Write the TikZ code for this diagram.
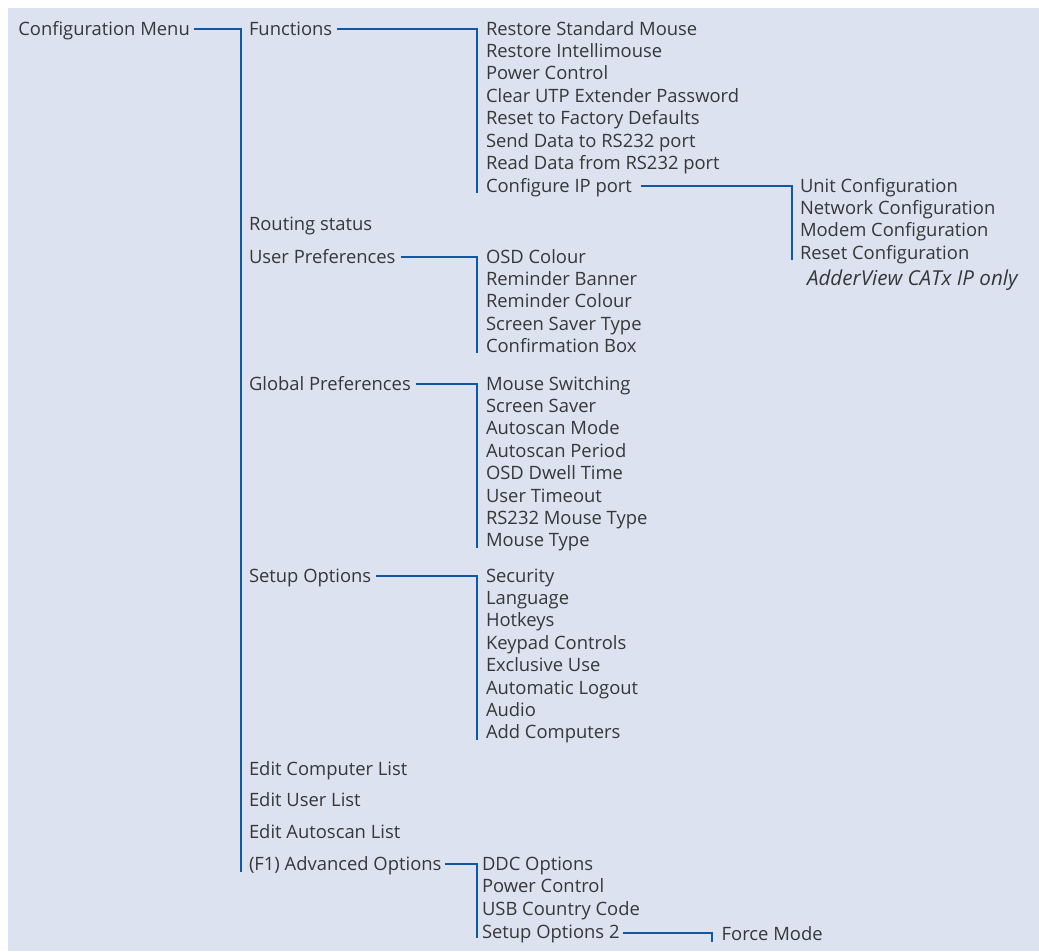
\documentclass[tikz,border=0pt]{standalone}
\usepackage{fontspec}
\setmainfont{Open Sans}
\usetikzlibrary{calc}
\definecolor{bg}{RGB}{221,226,240}
\definecolor{conn}{RGB}{16,88,164}
\definecolor{txt}{RGB}{55,55,55}
\newcommand{\lbl}{\fontsize{18.4}{21}\selectfont}
\newcommand{\notefont}{\fontsize{20.6}{24}\selectfont\itshape}
\tikzset{
  item/.style={inner sep=0pt, outer sep=0pt, anchor=base west, font=\lbl, text=txt},
  note/.style={item, font=\notefont},
  link/.style={draw=conn, line width=2pt},
  trunk/.style={draw=conn, line width=2.2pt}
}
\begin{document}
\begin{tikzpicture}[x=1pt,y=-1pt]
\useasboundingbox (0,0) rectangle (1039,951);
\fill[bg] (8,8) rectangle (1039,951);
% vertical line x positions
\coordinate (v1) at (241,0);
\coordinate (v2) at (477,0);
\coordinate (v3) at (792,0);
\coordinate (v4) at (712,0);
% level 1
\node[item] (cm) at (18.3,35) {Configuration Menu};
% level 2
\node[item] (fn) at (249,35) {Functions};
\node[item] (rs) at (249,230) {Routing status};
\node[item] (up) at (249,263) {User Preferences};
\node[item] (gp) at (249,390) {Global Preferences};
\node[item] (so) at (249,582) {Setup Options};
\node[item] (ec) at (249,775) {Edit Computer List};
\node[item] (eu) at (249,806.6) {Edit User List};
\node[item] (ea) at (249,838.3) {Edit Autoscan List};
\node[item] (ao) at (249,870) {(F1) Advanced Options};
% Functions children
\node[item] (f1) at (486,35) {Restore Standard Mouse};
\node[item] (f2) at (486,57.4) {Restore Intellimouse};
\node[item] (f3) at (486,79.8) {Power Control};
\node[item] (f4) at (486,102.2) {Clear UTP Extender Password};
\node[item] (f5) at (486,124.6) {Reset to Factory Defaults};
\node[item] (f6) at (486,147) {Send Data to RS232 port};
\node[item] (f7) at (486,169.4) {Read Data from RS232 port};
\node[item] (f8) at (486,192) {Configure IP port};
% IP children
\node[item] (i1) at (800,192) {Unit Configuration};
\node[item] (i2) at (800,214.4) {Network Configuration};
\node[item] (i3) at (800,236.8) {Modem Configuration};
\node[item] (i4) at (800,259.2) {Reset Configuration};
\node[note] (ipn) at (807,285.5) {AdderView CATx IP only};
% User Preferences children
\node[item] (u1) at (486,263) {OSD Colour};
\node[item] (u2) at (486,285.4) {Reminder Banner};
\node[item] (u3) at (486,307.8) {Reminder Colour};
\node[item] (u4) at (486,330.2) {Screen Saver Type};
\node[item] (u5) at (486,352.6) {Confirmation Box};
% Global Preferences children
\node[item] (g1) at (486,390) {Mouse Switching};
\node[item] (g2) at (486,412.4) {Screen Saver};
\node[item] (g3) at (486,434.8) {Autoscan Mode};
\node[item] (g4) at (486,457.2) {Autoscan Period};
\node[item] (g5) at (486,479.6) {OSD Dwell Time};
\node[item] (g6) at (486,502) {User Timeout};
\node[item] (g7) at (486,524.4) {RS232 Mouse Type};
\node[item] (g8) at (486,546.8) {Mouse Type};
% Setup Options children
\node[item] (s1) at (486,582) {Security};
\node[item] (s2) at (486,604.4) {Language};
\node[item] (s3) at (486,626.8) {Hotkeys};
\node[item] (s4) at (486,649.2) {Keypad Controls};
\node[item] (s5) at (486,671.6) {Exclusive Use};
\node[item] (s6) at (486,694) {Automatic Logout};
\node[item] (s7) at (486,716.4) {Audio};
\node[item] (s8) at (486,738.8) {Add Computers};
% Advanced Options children
\node[item] (a1) at (482,870) {DDC Options};
\node[item] (a2) at (482,892.7) {Power Control};
\node[item] (a3) at (482,915.4) {USB Country Code};
\node[item] (a4) at (482,938) {Setup Options 2};
\node[item] (fm) at (721.7,940.7) {Force Mode};
% connectors
\draw[trunk] ([xshift=4.5pt,yshift=6pt]cm.base east) -| ($(ao.base -| v1)+(0,1.7)$);
\draw[link] ([xshift=5pt,yshift=6pt]fn.base east) -| ($(f8.base -| v2)+(0,0.8)$);
\draw[link] ([xshift=9pt,yshift=6pt]f8.base east) -| ($(i4.base -| v3)+(0,0.8)$);
\draw[link] ([xshift=5pt,yshift=6pt]up.base east) -| ($(u5.base -| v2)+(0,0.8)$);
\draw[link] ([xshift=5pt,yshift=6pt]gp.base east) -| ($(g8.base -| v2)+(0,0.8)$);
\draw[link] ([xshift=5pt,yshift=6pt]so.base east) -| ($(s8.base -| v2)+(0,0.8)$);
\draw[link] ([xshift=4pt,yshift=6pt]ao.base east) -| ($(a4.base -| v2)+(0,0)$);
\draw[link] ([xshift=3.5pt,yshift=5pt]a4.base east) -| ($(fm.base -| v4)+(0,1)$);
\end{tikzpicture}
\end{document}
